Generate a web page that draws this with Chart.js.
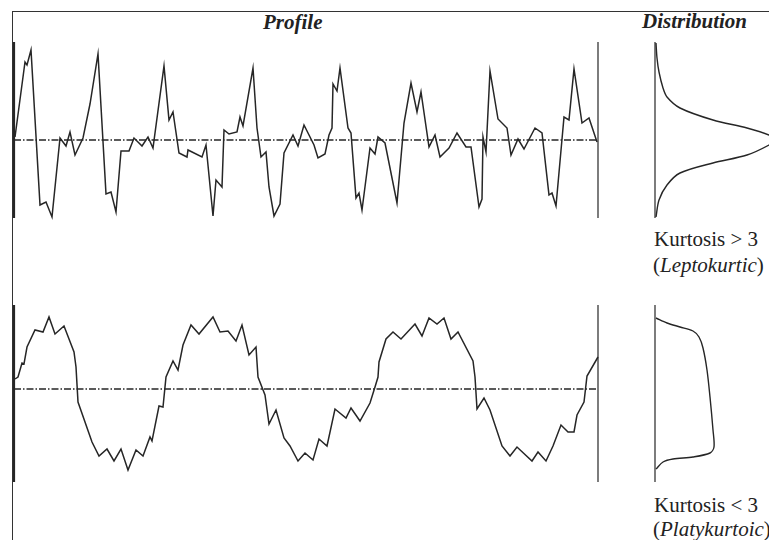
<!DOCTYPE html>
<html>
<head>
<meta charset="utf-8">
<script src="https://cdn.jsdelivr.net/npm/chart.js@4.4.0/dist/chart.umd.min.js"></script>
<style>
  body { margin: 0; width: 769px; height: 540px; overflow: hidden; background: #fff; position: relative;
         font-family: "Liberation Serif", "DejaVu Serif", serif; color: #222; }
  .layer { position: absolute; left: 0; top: 0; width: 769px; height: 540px; }
  .frame { position: absolute; left: 12px; top: 11px; width: 800px; height: 600px;
           border-left: 1.5px solid #333; border-top: 1.5px solid #333; }
  .lbl { position: absolute; font-size: 21px; line-height: 21px; white-space: nowrap; }
  .head { font-weight: bold; font-style: italic; }
</style>
</head>
<body>
<div class="frame"></div>
<div class="lbl head" style="left:263px;top:12px">Profile</div>
<div class="lbl head" style="left:642px;top:11px">Distribution</div>
<div class="lbl" style="left:654px;top:229px">Kurtosis &gt; 3</div>
<div class="lbl" style="left:653px;top:255px">(<i>Leptokurtic</i>)</div>
<div class="lbl" style="left:654px;top:495px">Kurtosis &lt; 3</div>
<div class="lbl" style="left:653px;top:519px">(<i>Platykurtoic</i>)</div>

<canvas id="topProfile" class="layer" width="769" height="540"></canvas>
<canvas id="topDist" class="layer" width="769" height="540"></canvas>
<canvas id="botProfile" class="layer" width="769" height="540"></canvas>
<canvas id="botDist" class="layer" width="769" height="540"></canvas>

<script>
// leptokurtic profile (position along the trace, deviation from mean)
const topPos = [1, 11, 13, 17, 26, 32, 38, 46, 52, 56, 61, 69, 76, 84, 92, 97, 102, 107, 115, 120,
  128, 134, 139, 150, 155, 159, 165, 173, 174, 188, 192, 199, 202, 208, 210, 215, 223, 226, 229, 239,
  243, 247, 252, 255, 260, 266, 270, 279, 284, 290, 300, 304, 311, 315, 318, 319, 323, 326, 334, 337,
  342, 345, 348, 356, 361, 364, 371, 383, 390, 397, 403, 407, 415, 421, 426, 435, 443, 452, 457, 465,
  468, 469, 472, 476, 484, 493, 497, 504, 510, 521, 528, 535, 538, 542, 550, 555, 560, 568, 575, 583];
const topDev = [3, 78, 75, 90, -65, -62, -77, 2, -6, 8, -15, 2, 36, 86, -54, -52, -72, -11, -11, 2,
  -6, 3, -8, 74, 20, 28, -13, -17, -10, -17, -5, -76, -40, -47, 10, 6, 8, 23, 14, 72,
  12, -17, -12, -47, -76, -64, -13, 5, -6, 15, -5, -18, -14, 5, 12, 56, 49, 72, 12, 7,
  -58, -53, -70, -8, -14, 3, -3, -63, 17, 57, 28, 48, -7, 5, -17, -8, 7, -7, -7, -67,
  -59, 3, -12, 69, 21, 12, -15, 1, -9, 12, 7, -55, -53, -66, 23, 20, 71, 17, 22, -2];

// platykurtic profile
const botPos = [1, 4, 8, 10, 13, 21, 29, 35, 41, 50, 60, 62, 64, 78, 85, 93, 100, 107, 114, 122,
  129, 136, 138, 145, 149, 152, 159, 164, 169, 177, 185, 199, 206, 214, 222, 228, 235, 242, 244, 251,
  255, 262, 270, 276, 284, 291, 299, 305, 313, 321, 332, 337, 346, 356, 361, 364, 365, 372, 379, 387,
  401, 408, 415, 423, 430, 437, 444, 459, 461, 463, 470, 476, 488, 496, 503, 518, 524, 532, 539, 547,
  554, 560, 563, 570, 573, 584];
const botDev = [10, 12, 26, 25, 42, 59, 57, 72, 55, 63, 37, 22, -13, -53, -67, -60, -72, -60, -81, -61,
  -67, -48, -52, -17, -18, 12, 28, 19, 44, 64, 55, 72, 57, 58, 48, 64, 34, 42, 12, -6,
  -35, -21, -49, -57, -72, -64, -71, -50, -57, -20, -29, -19, -32, -14, 2, 12, 27, 50, 57, 50,
  65, 53, 71, 65, 71, 50, 57, 28, 12, -20, -9, -21, -57, -67, -58, -72, -63, -72, -57, -36,
  -43, -43, -26, -13, 13, 32];

// distributions (density vs level)
const leptoDensity = [0.01, 0.02, 0.04, 0.08, 0.12, 0.25, 0.58, 0.92, 1.14, 1.2, 1.14, 0.92, 0.58, 0.25, 0.12, 0.04, 0.01];
const leptoLevel   = [97, 82, 68, 52, 43, 32, 20, 12, 5, 0, -5, -15, -23, -33, -45, -60, -77];
const platyDensity = [0.01, 0.12, 0.25, 0.38, 0.44, 0.48, 0.52, 0.55, 0.58, 0.59, 0.55, 0.38, 0.18, 0.08, 0.01];
const platyLevel   = [71, 66, 62, 58, 52, 41, 19, -8, -41, -58, -64, -68, -70, -73, -80];

const ink = '#262626';

function pts(xs, ys) {
  return xs.map((x, i) => ({ x: x, y: ys[i] }));
}

function lineSet(data, width, extra) {
  return Object.assign({
    data: data,
    showLine: true,
    borderColor: ink,
    borderWidth: width,
    pointRadius: 0,
    fill: false,
    tension: 0
  }, extra || {});
}

function makeChart(id, datasets, x, y, pad) {
  return new Chart(document.getElementById(id), {
    type: 'scatter',
    data: { datasets: datasets },
    options: {
      responsive: false,
      animation: false,
      events: [],
      layout: { padding: pad },
      plugins: { legend: { display: false }, tooltip: { enabled: false } },
      scales: {
        x: { type: 'linear', display: false, min: x[0], max: x[1] },
        y: { type: 'linear', display: false, min: y[0], max: y[1] }
      }
    }
  });
}

const dashDot = [7, 2, 1.5, 2];

// top profile
makeChart('topProfile', [
  lineSet(pts(topPos, topDev), 1.5),
  lineSet([{ x: 0, y: 0 }, { x: 584, y: 0 }], 1.3, { borderDash: dashDot }),
  lineSet([{ x: 0, y: -78 }, { x: 0, y: 98 }], 2.2),
  lineSet([{ x: 584, y: -78 }, { x: 584, y: 98 }], 1.2)
], [-4, 588], [-82, 102], { left: 10, right: 167, top: 38, bottom: 318 });

// top distribution
makeChart('topDist', [
  lineSet(pts(leptoDensity, leptoLevel), 1.4, { tension: 0.3 }),
  lineSet([{ x: 0, y: -78 }, { x: 0, y: 98 }], 1.2)
], [-0.05, 1.14], [-82, 102], { left: 650, right: 0, top: 38, bottom: 318 });

// bottom profile
makeChart('botProfile', [
  lineSet(pts(botPos, botDev), 1.5),
  lineSet([{ x: 0, y: 0 }, { x: 584, y: 0 }], 1.3, { borderDash: dashDot }),
  lineSet([{ x: 0, y: -93 }, { x: 0, y: 84 }], 2.2),
  lineSet([{ x: 584, y: -93 }, { x: 584, y: 84 }], 1.2)
], [-4, 588], [-97, 88], { left: 10, right: 167, top: 301, bottom: 54 });

// bottom distribution
makeChart('botDist', [
  lineSet(pts(platyDensity, platyLevel), 1.4, { tension: 0.3 }),
  lineSet([{ x: 0, y: -93 }, { x: 0, y: 84 }], 1.2)
], [-0.05, 1.14], [-97, 88], { left: 650, right: 0, top: 301, bottom: 54 });
</script>
</body>
</html>
